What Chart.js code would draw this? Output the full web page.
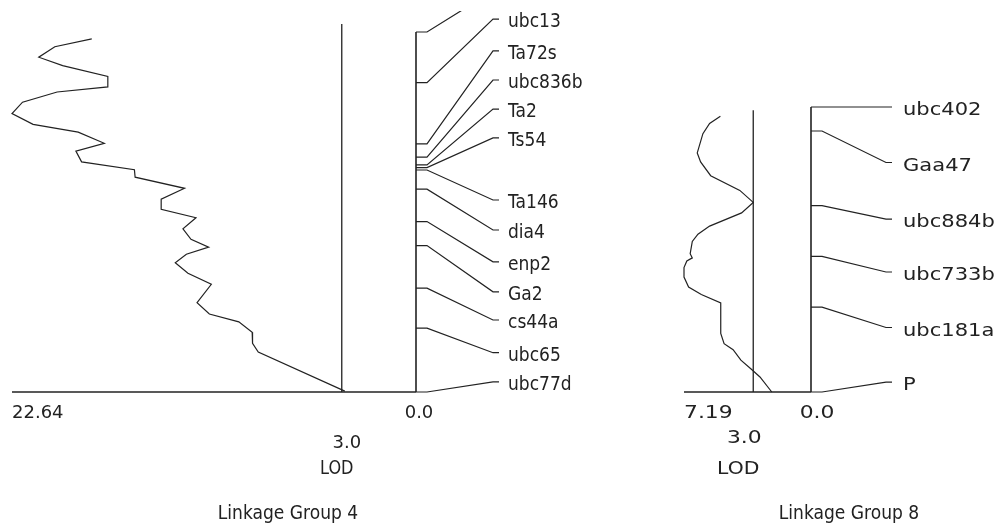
<!DOCTYPE html>
<html>
<head>
<meta charset="utf-8">
<title>LOD profiles - linkage groups 4 and 8</title>
<script src="https://cdn.jsdelivr.net/npm/chart.js@4.4.1/dist/chart.umd.min.js"></script>
<style>
    html, body { margin: 0; padding: 0; background: #fff; }
    body { width: 998px; height: 524px; position: relative; overflow: hidden; }
    canvas { position: absolute; top: 11px; }
    #lg4 { left: 0; }
    #lg8 { left: 640px; }
</style>
</head>
<body>
<canvas id="lg4" width="620" height="513"></canvas>
<canvas id="lg8" width="358" height="513"></canvas>
<script>
// Linkage group 4 - markers (cM from the top of the group)
const lg4Markers = ['', 'ubc13', 'Ta72s', 'ubc836b', 'Ta2', 'Ts54', 'Ta146', 'dia4', 'enp2', 'Ga2', 'cs44a', 'ubc65', 'ubc77d'];
const lg4MarkerPos = [0, 16.9, 37.3, 41.7, 44.3, 45.2, 46.0, 52.4, 63.2, 71.2, 85.4, 98.7, 120.0];
// label slots, same units (spread out so names don't overlap; first one is cut off by the figure edge)
const lg4LabelPos = [-13.7, -4.3, 6.3, 16.0, 25.7, 35.3, 56.0, 66.0, 76.6, 86.6, 96.0, 106.9, 116.6];

// LOD profile along group 4
const lg4ProfilePos = [2.3, 4.9, 8.4, 11.2, 14.8, 18.3, 20.0, 23.4, 27.2, 30.8, 33.4, 37.1, 39.7, 43.3, 45.9, 48.4,
    52.1, 55.7, 59.1, 61.9, 65.6, 69.1, 71.7, 74.1, 76.9, 80.4, 84.1, 90.2, 94.0, 96.6, 100.1, 103.8, 106.7, 119.7];
const lg4Lod = [18.17, 20.24, 21.14, 19.80, 17.27, 17.27, 20.11, 22.05, 22.64, 21.46, 18.93, 17.47, 19.06, 18.74, 15.78, 15.74,
    12.97, 14.28, 14.28, 12.33, 13.06, 12.61, 11.62, 12.87, 13.49, 12.78, 11.47, 12.27, 11.58, 9.93, 9.18, 9.16, 8.84, 3.99];
const lg4LodMax = 22.64;
// the "3.0" line, placed where the figure draws it on this LOD scale
const lg4Threshold = 4.16;
const lg4ThresholdTop = -2.7;
const lg4Length = 120;
const lg4TickLabels = ['22.64', '3.0', '0.0'];

// Linkage group 8
const lg8Markers = ['ubc402', 'Gaa47', 'ubc884b', 'ubc733b', 'ubc181a', 'P'];
const lg8MarkerPos = [0, 8.0, 32.9, 49.8, 66.7, 95.0];
const lg8LabelPos = [0, 18.5, 37.4, 55.0, 73.5, 91.7];

const lg8ProfilePos = [3.1, 5.5, 8.9, 15.3, 18.3, 22.9, 27.8, 31.8, 35.3, 39.7, 42.4, 44.8, 48.9, 50.3,
    51.3, 53.5, 56.7, 60.0, 62.5, 65.3, 75.5, 78.9, 80.9, 84.4, 87.5, 90.0, 95.0];
const lg8Lod = [5.13, 5.74, 6.12, 6.44, 6.25, 5.68, 4.03, 3.27, 3.93, 5.74, 6.40, 6.72, 6.84, 6.72,
    7.03, 7.19, 7.19, 6.93, 6.21, 5.11, 5.11, 4.92, 4.41, 3.97, 3.36, 2.89, 2.22];
const lg8LodMax = 7.19;
const lg8Threshold = 3.27;
const lg8ThresholdTop = 1.1;
const lg8Length = 95;
const lg8TickLabels = ['7.19', '3.0', '0.0'];

const INK = '#222';

function drawText(ctx, text, x, y, font, align, stretch) {
    ctx.save();
    ctx.font = font;
    ctx.textAlign = align;
    ctx.textBaseline = 'alphabetic';
    ctx.fillStyle = INK;
    ctx.translate(x, y);
    ctx.scale(stretch, 1);
    ctx.fillText(text, 0, 0);
    ctx.restore();
}

// draws marker ticks, connectors, names and the axis texts
const mapPlugin = {
    id: 'mapPlugin',
    afterDatasetsDraw(chart, args, o) {
        const ctx = chart.ctx;
        const xs = chart.scales.x, ys = chart.scales.y;
        const x0 = xs.getPixelForValue(0);

        ctx.save();
        ctx.strokeStyle = INK;
        ctx.lineWidth = 1.2;
        o.markers.forEach((name, i) => {
            const yt = ys.getPixelForValue(o.markerPos[i]);
            const yl = ys.getPixelForValue(o.labelPos[i]);
            ctx.beginPath();
            ctx.moveTo(x0, yt);
            if (Math.abs(yt - yl) < 1) {
                ctx.lineTo(x0 + o.stubEnd, yl);
            } else {
                ctx.lineTo(x0 + 11, yt);
                ctx.lineTo(x0 + o.diagEnd, yl);
                ctx.lineTo(x0 + o.stubEnd, yl);
            }
            ctx.stroke();
            if (name) {
                drawText(ctx, name, x0 + o.textX, yl + 8, o.labelFont, 'left', o.labelStretch);
            }
        });
        ctx.restore();

        const yb = ys.getPixelForValue(o.length);
        const xt = xs.getPixelForValue(o.threshold);
        const t = o.tickLabels;
        drawText(ctx, t[0], xs.getPixelForValue(o.lodMax), yb + 26, o.numFont, 'left', o.numStretch);
        drawText(ctx, t[2], x0 + o.zeroDx, yb + 26, o.numFont, 'center', o.numStretch);
        drawText(ctx, t[1], xt + o.thrDx, yb + o.thrDy, o.numFont, 'center', o.numStretch);
        drawText(ctx, 'LOD', xt + o.lodDx, yb + 82, o.lodFont, 'center', o.lodStretch);
        drawText(ctx, o.title, x0 + o.titleDx, yb + 127, '19px "DejaVu Sans"', 'center', 0.9);
    }
};

function line(data, width) {
    return {
        data: data,
        showLine: true,
        borderColor: INK,
        borderWidth: width,
        pointRadius: 0,
        tension: 0,
        clip: false
    };
}

function makePanel(id, d) {
    const profile = d.profilePos.map((y, i) => ({ x: d.lod[i], y: y }));
    return new Chart(document.getElementById(id), {
        type: 'scatter',
        data: {
            datasets: [
                line(profile, 1.2),
                line([{ x: d.threshold, y: d.thresholdTop }, { x: d.threshold, y: d.length }], 1.3),
                line([{ x: 0, y: d.markerPos[0] }, { x: 0, y: d.length }], 1.6),
                line([{ x: d.lodMax, y: d.length }, { x: 0, y: d.length }], 1.3)
            ]
        },
        options: {
            responsive: false,
            animation: false,
            layout: { padding: d.padding },
            plugins: {
                legend: { display: false },
                tooltip: { enabled: false },
                mapPlugin: d
            },
            scales: {
                x: { type: 'linear', reverse: true, min: 0, max: d.lodMax, display: false },
                y: { type: 'linear', reverse: true, min: 0, max: d.length, display: false }
            }
        },
        plugins: [mapPlugin]
    });
}

makePanel('lg4', {
    markers: lg4Markers, markerPos: lg4MarkerPos, labelPos: lg4LabelPos,
    profilePos: lg4ProfilePos, lod: lg4Lod, lodMax: lg4LodMax,
    threshold: lg4Threshold, thresholdTop: lg4ThresholdTop, length: lg4Length,
    tickLabels: lg4TickLabels, title: 'Linkage Group 4',
    padding: { left: 12, right: 204, top: 21, bottom: 132 },
    diagEnd: 77, stubEnd: 83, textX: 92,
    labelFont: '19px "DejaVu Sans"', labelStretch: 0.9,
    numFont: '18px "DejaVu Sans"', numStretch: 1.0,
    lodFont: '19px "DejaVu Sans"', lodStretch: 0.85,
    zeroDx: 3, thrDx: 5, thrDy: 56, lodDx: -5, titleDx: -128
});

makePanel('lg8', {
    markers: lg8Markers, markerPos: lg8MarkerPos, labelPos: lg8LabelPos,
    profilePos: lg8ProfilePos, lod: lg8Lod, lodMax: lg8LodMax,
    threshold: lg8Threshold, thresholdTop: lg8ThresholdTop, length: lg8Length,
    tickLabels: lg8TickLabels, title: 'Linkage Group 8',
    padding: { left: 44, right: 187, top: 96, bottom: 132 },
    diagEnd: 75, stubEnd: 81, textX: 92,
    labelFont: '18px "DejaVu Sans"', labelStretch: 1.17,
    numFont: '18.5px "DejaVu Sans"', numStretch: 1.18,
    lodFont: '18.5px "DejaVu Sans"', lodStretch: 1.1,
    zeroDx: 6, thrDx: -9, thrDy: 51, lodDx: -15, titleDx: 38
});
</script>
</body>
</html>
